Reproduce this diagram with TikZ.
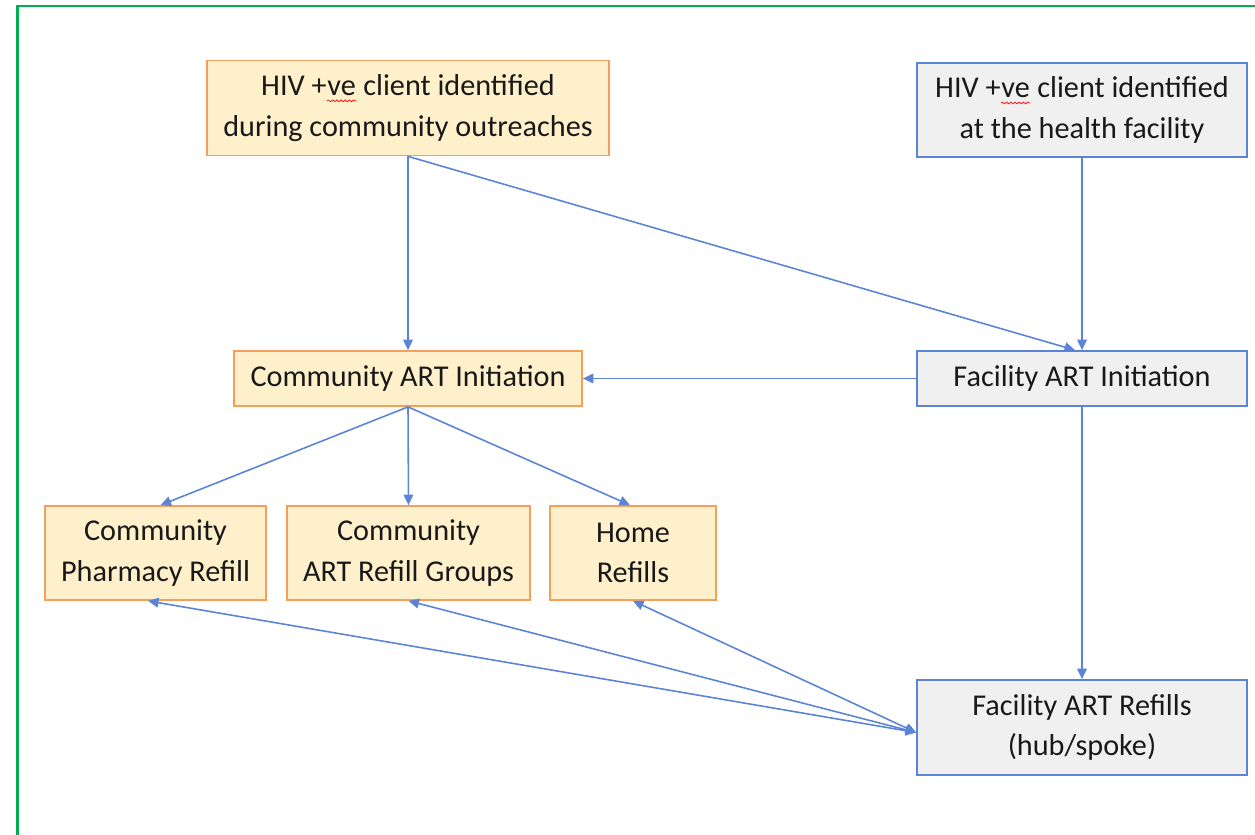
\documentclass[tikz,border=0pt]{standalone}
\usepackage{fontspec}
\setmainfont{Carlito}
\usetikzlibrary{arrows.meta,decorations.pathmorphing}
\definecolor{orangeline}{HTML}{F4A05A}
\definecolor{orangefill}{HTML}{FFF0CC}
\definecolor{blueline}{HTML}{5B84D6}
\definecolor{grayfill}{HTML}{F0F0F0}
\definecolor{framegreen}{HTML}{00B050}
\tikzset{
>={Triangle[length=6pt,width=5.5pt]},
x=0.02cm, y=-0.02cm,
every node/.style={font=\fontsize{17.2}{23}\selectfont, align=center, inner sep=0pt, text=black!90},
commbox/.style={draw=orangeline, fill=orangefill, line width=1pt},
facbox/.style={draw=blueline, fill=grayfill, line width=1pt},
flow/.style={->, draw=blueline, line width=0.9pt},
}
\newcommand{\squig}[1]{\tikz[baseline=(s.base)]{\node[inner sep=0pt,minimum width=0pt,minimum height=0pt,draw=none,fill=none] (s) {#1};
  \draw[red, line width=0.4pt, decorate, decoration={snake,amplitude=0.5pt,segment length=2.4pt}] ([yshift=-2.6pt]s.south west) -- ([yshift=-2.6pt]s.south east);}}

\begin{document}
\begin{tikzpicture}
    \useasboundingbox (0,0) rectangle (1255,835);
    \draw[framegreen, line width=1.5pt] (17.5,840) -- (17.5,6) -- (1260,6);

    \node[commbox, minimum width=8.04cm, minimum height=1.9cm] (out) at (408,108) {HIV +\squig{ve} client identified\\during community outreaches};
    \node[facbox, minimum width=6.6cm, minimum height=1.88cm] (fac) at (1082,110) {HIV +\squig{ve} client identified\\at the health facility};

    \node[commbox, minimum width=6.96cm, minimum height=1.1cm] (cinit) at (408,378.5) {Community ART Initiation};
    \node[facbox, minimum width=6.6cm, minimum height=1.1cm] (finit) at (1082,378.5) {Facility ART Initiation};

    \node[commbox, minimum width=4.42cm, minimum height=1.88cm] (pharm) at (155.5,553) {Community\\Pharmacy Refill};
    \node[commbox, minimum width=4.86cm, minimum height=1.88cm] (groups) at (408.5,553) {Community\\ART Refill Groups};
    \node[commbox, minimum width=3.32cm, minimum height=1.88cm] (home) at (633,553) {Home\\Refills};

    \node[facbox, minimum width=6.6cm, minimum height=1.9cm] (frefill) at (1082,727.5) {Facility ART Refills\\(hub/spoke)};

    \draw[flow] (out.south) -- (cinit.north);
    \draw[flow] (out.south) -- ([xshift=-0.14cm]finit.north);
    \draw[flow] (fac.south) -- (finit.north);
    \draw[flow] (finit.west) -- (cinit.east);
    \draw[flow] (cinit.south) -- ([xshift=0.1cm]pharm.north);
    \draw[flow] (cinit.south) -- (groups.north);
    \draw[flow] (cinit.south) -- ([xshift=-0.06cm]home.north);
    \draw[flow] (finit.south) -- (frefill.north);
    \draw[flow, <->] ([yshift=-0.1cm]frefill.west) -- ([xshift=-0.15cm]pharm.south);
    \draw[flow, <->] ([yshift=-0.1cm]frefill.west) -- (groups.south);
    \draw[flow, <->] ([yshift=-0.1cm]frefill.west) -- (home.south);
\end{tikzpicture}
\end{document}
